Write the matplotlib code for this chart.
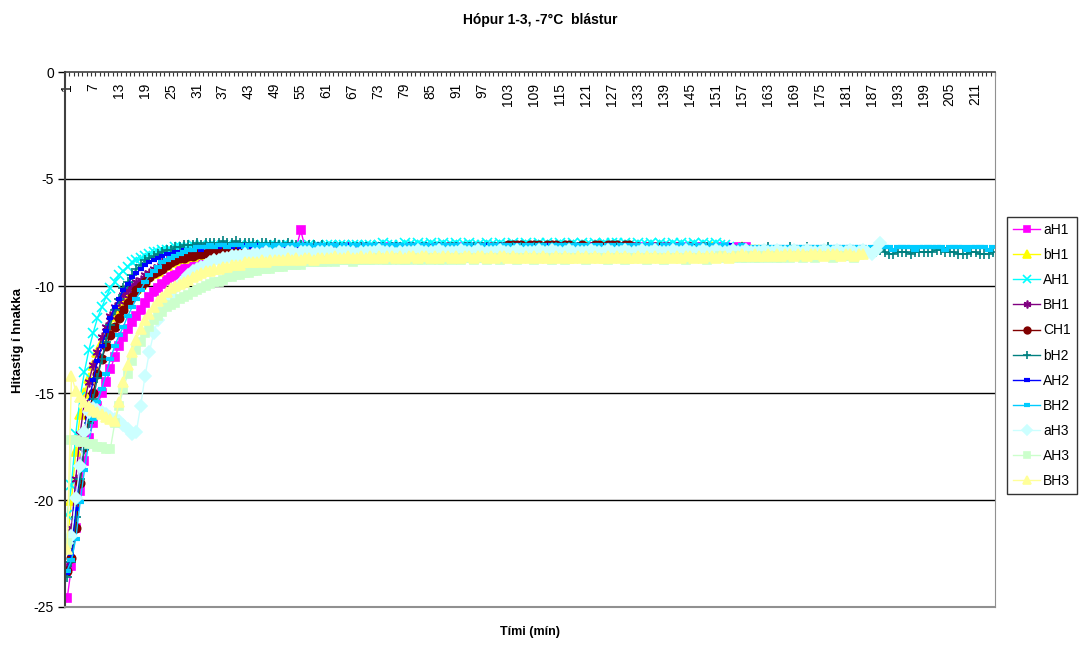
import numpy as np
import matplotlib
matplotlib.use("Agg")
import matplotlib.pyplot as plt

plt.rcParams['font.family'] = ['Liberation Sans', 'DejaVu Sans']

# temperature readings per minute, one list per probe
aH1 = [-24.6, -23.1, -21.3, -19.6, -18.2, -17.1, -16.4, -15.6, -15.0, -14.5, -13.9, -13.3, -12.8, -12.4, -12.0, -11.7, -11.4, -11.1, -10.8, -10.5,
       -10.3, -10.1, -9.9, -9.7, -9.6, -9.5, -9.3, -9.2, -9.1, -9.0, -8.9, -8.8, -8.8, -8.7, -8.6, -8.6, -8.5, -8.5, -8.4, -8.4,
       -8.4, -8.3, -8.3, -8.3, -8.4, -8.3, -8.3, -8.2, -8.3, -8.3, -8.2, -8.3, -8.3, -8.2, -7.4, -8.2, -8.3, -8.3, -8.2, -8.3,
       -8.3, -8.2, -8.3, -8.3, -8.2, -8.3, -8.3, -8.2, -8.3, -8.2, -8.3, -8.3, -8.2, -8.3, -8.2, -8.2, -8.3, -8.3, -8.2, -8.3,
       -8.2, -8.3, -8.2, -8.3, -8.3, -8.2, -8.2, -8.3, -8.2, -8.3, -8.3, -8.2, -8.3, -8.2, -8.2, -8.3, -8.2, -8.3, -8.3, -8.2,
       -8.3, -8.2, -8.2, -8.3, -8.2, -8.2, -8.3, -8.2, -8.2, -8.3, -8.2, -8.3, -8.2, -8.2, -8.3, -8.2, -8.2, -8.3, -8.2, -8.2,
       -8.2, -8.3, -8.2, -8.2, -8.2, -8.3, -8.2, -8.2, -8.3, -8.2, -8.2, -8.2, -8.3, -8.2, -8.3, -8.2, -8.2, -8.3, -8.2, -8.2,
       -8.3, -8.2, -8.2, -8.3, -8.2, -8.3, -8.2, -8.2, -8.3, -8.3, -8.2, -8.3, -8.2, -8.3, -8.3, -8.2, -8.3, -8.2, -8.3, -8.3]

bH1 = [-22.0, -20.0, -17.7, -16.0, -15.0, -14.3, -13.7, -13.1, -12.6, -12.2, -11.8, -11.4, -11.1, -10.8, -10.5, -10.3, -10.1, -9.9, -9.7, -9.5,
       -9.4, -9.3, -9.1, -9.0, -8.9, -8.8, -8.7, -8.7, -8.6, -8.6, -8.5, -8.5, -8.5, -8.4, -8.4, -8.4, -8.3, -8.4, -8.3, -8.3,
       -8.3, -8.4, -8.3, -8.3, -8.3, -8.4, -8.3, -8.3, -8.4, -8.3, -8.3, -8.3, -8.4, -8.3, -8.3, -8.4, -8.3, -8.3, -8.3, -8.4,
       -8.3, -8.3, -8.4, -8.3, -8.3, -8.3, -8.4, -8.3, -8.3, -8.4, -8.3, -8.3, -8.3, -8.4, -8.3, -8.3, -8.4, -8.3, -8.3, -8.3,
       -8.4, -8.3, -8.3, -8.3, -8.4, -8.3, -8.3, -8.4, -8.3, -8.3, -8.3, -8.4, -8.3, -8.3, -8.3, -8.4, -8.3, -8.3, -8.4, -8.3,
       -8.3, -8.3, -8.4, -8.3, -8.3, -8.3, -8.2, -8.3, -8.3, -8.4, -8.3, -8.3, -8.3, -8.2, -8.3, -8.3, -8.4, -8.3, -8.3, -8.3,
       -8.2, -8.3, -8.3, -8.3, -8.4, -8.3, -8.3, -8.2, -8.3, -8.3, -8.3, -8.4, -8.3, -8.3, -8.3, -8.2, -8.3, -8.3, -8.4, -8.3,
       -8.3, -8.3, -8.2, -8.3, -8.3, -8.3, -8.4, -8.3, -8.3, -8.2, -8.3, -8.3, -8.3, -8.4, -8.3, -8.3, -8.2, -8.3, -8.3, -8.3,
       -8.3, -8.3]

AH1 = [-20.7, -19.3, -16.9, -15.2, -14.0, -13.0, -12.2, -11.5, -11.0, -10.5, -10.1, -9.8, -9.5, -9.3, -9.1, -8.9, -8.8, -8.7, -8.6, -8.5,
       -8.4, -8.4, -8.3, -8.3, -8.3, -8.2, -8.2, -8.2, -8.2, -8.1, -8.2, -8.1, -8.2, -8.1, -8.1, -8.2, -8.1, -8.1, -8.2, -8.1,
       -8.1, -8.2, -8.1, -8.1, -8.2, -8.1, -8.2, -8.1, -8.1, -8.2, -8.1, -8.1, -8.2, -8.1, -8.2, -8.1, -8.1, -8.2, -8.1, -8.2,
       -8.1, -8.1, -8.2, -8.1, -8.1, -8.2, -8.1, -8.1, -8.2, -8.1, -8.1, -8.2, -8.1, -8.0, -8.1, -8.1, -8.2, -8.1, -8.0, -8.1,
       -8.1, -8.0, -8.1, -8.1, -8.0, -8.1, -8.1, -8.0, -8.1, -8.1, -8.0, -8.1, -8.1, -8.0, -8.1, -8.1, -8.1, -8.0, -8.1, -8.1,
       -8.0, -8.1, -8.1, -8.0, -8.1, -8.1, -8.0, -8.1, -8.1, -8.0, -8.1, -8.0, -8.1, -8.1, -8.0, -8.1, -8.1, -8.0, -8.1, -8.0,
       -8.1, -8.1, -8.0, -8.1, -8.0, -8.1, -8.0, -8.0, -8.1, -8.0, -8.1, -8.1, -8.0, -8.1, -8.1, -8.0, -8.1, -8.0, -8.1, -8.1,
       -8.0, -8.1, -8.0, -8.1, -8.1, -8.0, -8.1, -8.0, -8.1, -8.1, -8.0, -8.1, -8.1, -8.2]

BH1 = [-23.2, -21.3, -19.0, -16.9, -15.4, -14.5, -13.7, -13.1, -12.4, -11.9, -11.4, -11.0, -10.7, -10.4, -10.2, -10.0, -9.8, -9.7, -9.5, -9.4,
       -9.2, -9.1, -8.9, -8.8, -8.7, -8.7, -8.6, -8.6, -8.5, -8.5, -8.4, -8.4, -8.4, -8.3, -8.3, -8.3, -8.3, -8.2, -8.3, -8.3,
       -8.3, -8.2, -8.3, -8.3, -8.2, -8.3, -8.3, -8.3, -8.2, -8.3, -8.3, -8.2, -8.3, -8.3, -8.3, -8.2, -8.3, -8.3, -8.2, -8.3,
       -8.3, -8.3, -8.2, -8.3, -8.3, -8.2, -8.3, -8.3, -8.3, -8.2, -8.3, -8.3, -8.2, -8.3, -8.3, -8.3, -8.2, -8.3, -8.3, -8.2,
       -8.3, -8.3, -8.3, -8.2, -8.3, -8.3, -8.2, -8.3, -8.3, -8.3, -8.2, -8.3, -8.3, -8.2, -8.3, -8.3, -8.3, -8.2, -8.3, -8.3,
       -8.2, -8.3, -8.3, -8.3, -8.2, -8.3, -8.3, -8.2, -8.3, -8.3, -8.3, -8.2, -8.3, -8.3, -8.2, -8.3, -8.3, -8.3, -8.2, -8.3,
       -8.3, -8.2, -8.3, -8.4, -8.3, -8.2, -8.3, -8.3, -8.3, -8.4, -8.3, -8.3, -8.2, -8.3, -8.4, -8.4, -8.3, -8.3, -8.2, -8.3,
       -8.3, -8.4, -8.3, -8.3, -8.2, -8.3, -8.3, -8.4, -8.3, -8.3, -8.3]

CH1 = [-23.3, -22.7, -21.3, -19.2, -17.5, -16.1, -15.0, -14.1, -13.4, -12.8, -12.3, -11.9, -11.5, -11.1, -10.8, -10.5, -10.2, -10.0, -9.8, -9.6,
       -9.4, -9.3, -9.2, -9.0, -8.9, -8.8, -8.7, -8.7, -8.6, -8.6, -8.5, -8.5, -8.5, -8.4, -8.4, -8.4, -8.4, -8.3, -8.4, -8.3,
       -8.4, -8.3, -8.4, -8.3, -8.4, -8.4, -8.3, -8.4, -8.3, -8.4, -8.3, -8.4, -8.4, -8.3, -8.4, -8.3, -8.4, -8.3, -8.4, -8.4,
       -8.3, -8.4, -8.3, -8.4, -8.4, -8.3, -8.4, -8.3, -8.4, -8.3, -8.4, -8.3, -8.4, -8.4, -8.3, -8.3, -8.4, -8.3, -8.3, -8.4,
       -8.3, -8.3, -8.3, -8.4, -8.3, -8.3, -8.3, -8.3, -8.2, -8.2, -8.3, -8.3, -8.2, -8.2, -8.3, -8.2, -8.2, -8.3, -8.2, -8.2,
       -8.2, -8.2, -8.1, -8.1, -8.1, -8.1, -8.2, -8.1, -8.1, -8.1, -8.2, -8.1, -8.1, -8.1, -8.2, -8.1, -8.1, -8.2, -8.2, -8.1,
       -8.2, -8.2, -8.1, -8.1, -8.2, -8.1, -8.1, -8.1, -8.2, -8.1, -8.1, -8.2, -8.2, -8.3, -8.2, -8.3, -8.2, -8.2, -8.3, -8.2,
       -8.3, -8.2, -8.3, -8.3, -8.2, -8.3, -8.3, -8.2, -8.3, -8.3]

bH2 = [-23.6, -22.9, -20.8, -19.0, -17.6, -16.4, -15.3, -14.3, -13.4, -12.6, -11.8, -11.1, -10.6, -10.1, -9.8, -9.5, -9.2, -9.0, -8.8, -8.7,
       -8.6, -8.5, -8.4, -8.3, -8.3, -8.2, -8.2, -8.1, -8.1, -8.1, -8.0, -8.1, -8.0, -8.0, -8.0, -8.0, -7.9, -8.0, -8.0, -7.9,
       -8.0, -8.0, -8.0, -8.0, -8.1, -8.0, -8.0, -8.1, -8.0, -8.1, -8.1, -8.0, -8.1, -8.1, -8.1, -8.2, -8.1, -8.1, -8.2, -8.1,
       -8.2, -8.2, -8.2, -8.2, -8.2, -8.3, -8.2, -8.2, -8.2, -8.2, -8.3, -8.2, -8.2, -8.2, -8.3, -8.2, -8.2, -8.2, -8.3, -8.2,
       -8.2, -8.3, -8.2, -8.2, -8.3, -8.2, -8.2, -8.2, -8.3, -8.2, -8.2, -8.3, -8.2, -8.2, -8.2, -8.3, -8.2, -8.2, -8.3, -8.2,
       -8.2, -8.2, -8.3, -8.2, -8.3, -8.2, -8.2, -8.3, -8.2, -8.2, -8.2, -8.3, -8.2, -8.2, -8.3, -8.2, -8.2, -8.2, -8.2, -8.3,
       -8.3, -8.3, -8.3, -8.4, -8.3, -8.3, -8.3, -8.2, -8.2, -8.3, -8.3, -8.3, -8.4, -8.3, -8.3, -8.3, -8.4, -8.4, -8.3, -8.3,
       -8.3, -8.4, -8.3, -8.3, -8.3, -8.4, -8.3, -8.3, -8.2, -8.3, -8.3, -8.3, -8.3, -8.4, -8.3, -8.3, -8.2, -8.3, -8.3, -8.3,
       -8.3, -8.3, -8.2, -8.3, -8.3, -8.3, -8.3, -8.2, -8.3, -8.3, -8.3, -8.2, -8.3, -8.3, -8.3, -8.3, -8.2, -8.3, -8.3, -8.3,
       -8.3, -8.3, -8.3, -8.3, -8.3, -8.4, -8.4, -8.4, -8.3, -8.4, -8.5, -8.5, -8.4, -8.4, -8.4, -8.5, -8.4, -8.4, -8.4, -8.4,
       -8.4, -8.3, -8.3, -8.4, -8.4, -8.4, -8.5, -8.5, -8.5, -8.4, -8.4, -8.5, -8.5, -8.5, -8.4]

AH2 = [-23.4, -22.5, -20.4, -18.4, -16.8, -15.5, -14.4, -13.5, -12.8, -12.1, -11.5, -11.0, -10.6, -10.2, -9.9, -9.6, -9.4, -9.2, -9.0, -8.9,
       -8.8, -8.7, -8.6, -8.5, -8.5, -8.4, -8.4, -8.3, -8.3, -8.3, -8.2, -8.3, -8.2, -8.2, -8.2, -8.2, -8.1, -8.2, -8.2, -8.1,
       -8.2, -8.1, -8.2, -8.2, -8.1, -8.2, -8.2, -8.2, -8.1, -8.2, -8.2, -8.1, -8.2, -8.2, -8.2, -8.1, -8.2, -8.2, -8.1, -8.2,
       -8.2, -8.2, -8.1, -8.2, -8.2, -8.1, -8.2, -8.2, -8.2, -8.1, -8.2, -8.2, -8.1, -8.2, -8.2, -8.2, -8.1, -8.2, -8.2, -8.1,
       -8.2, -8.2, -8.2, -8.1, -8.2, -8.2, -8.1, -8.2, -8.2, -8.2, -8.1, -8.2, -8.2, -8.1, -8.2, -8.2, -8.2, -8.1, -8.2, -8.2,
       -8.1, -8.2, -8.2, -8.2, -8.1, -8.2, -8.2, -8.1, -8.2, -8.2, -8.2, -8.1, -8.2, -8.2, -8.1, -8.2, -8.2, -8.2, -8.1, -8.2,
       -8.2, -8.1, -8.2, -8.2, -8.2, -8.1, -8.2, -8.2, -8.1, -8.2, -8.2, -8.2, -8.1, -8.2, -8.2, -8.1, -8.2, -8.2, -8.2, -8.1,
       -8.2, -8.2, -8.1, -8.2, -8.2, -8.2, -8.1, -8.2, -8.2, -8.1, -8.2, -8.2, -8.2, -8.1, -8.2, -8.2, -8.1, -8.2]

BH2 = [-23.3, -22.8, -21.8, -20.1, -18.6, -17.3, -16.2, -15.4, -14.8, -14.1, -13.4, -12.8, -12.3, -11.9, -11.4, -11.0, -10.6, -10.2, -9.8, -9.5,
       -9.3, -9.1, -8.9, -8.8, -8.7, -8.6, -8.5, -8.4, -8.3, -8.3, -8.2, -8.2, -8.2, -8.1, -8.2, -8.1, -8.1, -8.2, -8.1, -8.1,
       -8.1, -8.2, -8.1, -8.1, -8.2, -8.1, -8.1, -8.2, -8.1, -8.2, -8.1, -8.1, -8.2, -8.1, -8.1, -8.2, -8.1, -8.2, -8.1, -8.1,
       -8.2, -8.1, -8.1, -8.2, -8.1, -8.2, -8.1, -8.1, -8.2, -8.1, -8.2, -8.1, -8.1, -8.2, -8.1, -8.1, -8.2, -8.1, -8.2, -8.1,
       -8.1, -8.2, -8.1, -8.1, -8.2, -8.1, -8.2, -8.1, -8.1, -8.2, -8.1, -8.1, -8.2, -8.1, -8.2, -8.1, -8.1, -8.2, -8.1, -8.1,
       -8.2, -8.1, -8.1, -8.2, -8.1, -8.2, -8.1, -8.1, -8.2, -8.1, -8.1, -8.2, -8.1, -8.2, -8.1, -8.1, -8.2, -8.1, -8.1, -8.2,
       -8.1, -8.2, -8.1, -8.1, -8.2, -8.1, -8.1, -8.2, -8.1, -8.2, -8.1, -8.1, -8.2, -8.1, -8.1, -8.2, -8.1, -8.2, -8.1, -8.1,
       -8.2, -8.1, -8.1, -8.2, -8.1, -8.2, -8.1, -8.1, -8.2, -8.1, -8.1, -8.2, -8.1, -8.2, -8.2, -8.2, -8.1, -8.2, -8.2, -8.2,
       -8.2, -8.2, -8.2, -8.2, -8.2, -8.2, -8.2, -8.2, -8.2, -8.2, -8.2, -8.2, -8.2, -8.2, -8.2, -8.2, -8.2, -8.2, -8.2, -8.2,
       -8.2, -8.2, -8.2, -8.2, -8.2, -8.3, -8.2, -8.2, -8.2, -8.2, -8.2, -8.3, -8.2, -8.2, -8.2, -8.2, -8.3, -8.2, -8.2, -8.2,
       -8.2, -8.2, -8.2, -8.3, -8.2, -8.2, -8.2, -8.2, -8.3, -8.2, -8.2, -8.2, -8.2, -8.3, -8.2]

aH3 = [-22.0, -21.7, -19.9, -18.4, -16.8, -15.9, -15.7, -15.8, -15.9, -16.0, -16.1, -16.2, -16.3, -16.5, -16.7, -16.9, -16.8, -15.6, -14.2, -13.1,
       -12.2, -11.6, -11.1, -10.7, -10.4, -10.1, -9.9, -9.7, -9.5, -9.3, -9.2, -9.1, -9.0, -8.9, -8.8, -8.8, -8.7, -8.7, -8.6, -8.6,
       -8.6, -8.5, -8.6, -8.5, -8.5, -8.5, -8.4, -8.5, -8.5, -8.4, -8.5, -8.4, -8.4, -8.5, -8.4, -8.4, -8.4, -8.5, -8.4, -8.4,
       -8.4, -8.4, -8.5, -8.4, -8.4, -8.4, -8.4, -8.5, -8.4, -8.4, -8.4, -8.4, -8.3, -8.4, -8.4, -8.4, -8.5, -8.4, -8.4, -8.4,
       -8.4, -8.3, -8.4, -8.4, -8.4, -8.4, -8.3, -8.4, -8.4, -8.4, -8.4, -8.3, -8.4, -8.4, -8.4, -8.3, -8.4, -8.4, -8.4, -8.4,
       -8.3, -8.4, -8.4, -8.4, -8.3, -8.4, -8.4, -8.4, -8.4, -8.3, -8.4, -8.4, -8.3, -8.4, -8.4, -8.4, -8.3, -8.4, -8.4, -8.4,
       -8.4, -8.3, -8.4, -8.4, -8.4, -8.3, -8.4, -8.4, -8.4, -8.3, -8.4, -8.4, -8.4, -8.3, -8.4, -8.4, -8.3, -8.4, -8.4, -8.4,
       -8.3, -8.4, -8.4, -8.3, -8.4, -8.4, -8.4, -8.3, -8.4, -8.4, -8.3, -8.4, -8.4, -8.4, -8.3, -8.4, -8.4, -8.3, -8.4, -8.4,
       -8.4, -8.3, -8.4, -8.4, -8.3, -8.4, -8.4, -8.4, -8.3, -8.4, -8.4, -8.3, -8.4, -8.4, -8.4, -8.3, -8.4, -8.4, -8.3, -8.4,
       -8.4, -8.3, -8.4, -8.4, -8.3, -8.4, -8.5, -8.3, -8.0]

AH3 = [-22.0, -17.2, -17.2, -17.3, -17.3, -17.4, -17.4, -17.5, -17.5, -17.6, -17.6, -16.4, -15.6, -14.8, -14.1, -13.5, -13.0, -12.6, -12.2, -11.9,
       -11.6, -11.4, -11.2, -11.0, -10.9, -10.8, -10.6, -10.5, -10.4, -10.3, -10.2, -10.1, -10.0, -9.9, -9.8, -9.8, -9.7, -9.6, -9.6, -9.5,
       -9.5, -9.4, -9.4, -9.3, -9.3, -9.2, -9.2, -9.2, -9.1, -9.1, -9.1, -9.0, -9.0, -9.0, -9.0, -8.9, -8.9, -8.9, -8.9, -8.9,
       -8.9, -8.8, -8.9, -8.8, -8.8, -8.8, -8.9, -8.8, -8.8, -8.8, -8.8, -8.8, -8.7, -8.8, -8.8, -8.8, -8.7, -8.8, -8.8, -8.8,
       -8.7, -8.8, -8.8, -8.7, -8.8, -8.7, -8.8, -8.8, -8.7, -8.8, -8.7, -8.8, -8.7, -8.7, -8.8, -8.7, -8.7, -8.8, -8.7, -8.7,
       -8.8, -8.7, -8.7, -8.7, -8.8, -8.7, -8.7, -8.7, -8.8, -8.7, -8.7, -8.7, -8.8, -8.7, -8.7, -8.8, -8.7, -8.7, -8.7, -8.7,
       -8.8, -8.7, -8.7, -8.7, -8.7, -8.8, -8.7, -8.7, -8.7, -8.8, -8.7, -8.7, -8.7, -8.7, -8.8, -8.7, -8.7, -8.7, -8.8, -8.7,
       -8.7, -8.7, -8.7, -8.8, -8.7, -8.7, -8.7, -8.7, -8.8, -8.7, -8.7, -8.6, -8.7, -8.7, -8.7, -8.6, -8.7, -8.7, -8.6, -8.7,
       -8.7, -8.6, -8.7, -8.6, -8.7, -8.7, -8.6, -8.7, -8.6, -8.6, -8.7, -8.6, -8.6, -8.7, -8.6, -8.6, -8.6, -8.7, -8.6, -8.6,
       -8.6, -8.6, -8.7]

BH3 = [-22.3, -14.2, -14.9, -15.2, -15.4, -15.6, -15.8, -15.9, -16.0, -16.1, -16.2, -16.3, -15.4, -14.5, -13.7, -13.1, -12.5, -12.0, -11.6, -11.3,
       -11.0, -10.7, -10.5, -10.3, -10.1, -10.0, -9.9, -9.8, -9.7, -9.6, -9.5, -9.4, -9.3, -9.3, -9.2, -9.2, -9.1, -9.1, -9.0, -9.0,
       -9.0, -8.9, -8.9, -8.9, -8.9, -8.8, -8.9, -8.8, -8.8, -8.8, -8.8, -8.7, -8.8, -8.7, -8.8, -8.7, -8.7, -8.8, -8.7, -8.7,
       -8.7, -8.7, -8.6, -8.7, -8.7, -8.6, -8.7, -8.7, -8.6, -8.7, -8.6, -8.7, -8.6, -8.7, -8.6, -8.6, -8.7, -8.6, -8.7, -8.6,
       -8.6, -8.7, -8.6, -8.6, -8.7, -8.6, -8.7, -8.6, -8.6, -8.7, -8.6, -8.7, -8.6, -8.6, -8.7, -8.6, -8.6, -8.7, -8.6, -8.7,
       -8.6, -8.6, -8.7, -8.6, -8.7, -8.7, -8.6, -8.7, -8.6, -8.7, -8.6, -8.7, -8.7, -8.6, -8.7, -8.6, -8.7, -8.7, -8.6, -8.7,
       -8.6, -8.7, -8.6, -8.7, -8.7, -8.6, -8.7, -8.6, -8.7, -8.6, -8.7, -8.7, -8.6, -8.7, -8.6, -8.7, -8.6, -8.7, -8.7, -8.6,
       -8.7, -8.6, -8.7, -8.6, -8.6, -8.7, -8.6, -8.7, -8.6, -8.6, -8.7, -8.6, -8.6, -8.7, -8.6, -8.6, -8.5, -8.6, -8.6, -8.5,
       -8.6, -8.6, -8.5, -8.6, -8.5, -8.6, -8.5, -8.5, -8.6, -8.5, -8.5, -8.6, -8.5, -8.5, -8.5, -8.6, -8.5, -8.5, -8.5, -8.6,
       -8.5, -8.5, -8.6, -8.5, -8.5]

series_names = ['aH1', 'bH1', 'AH1', 'BH1', 'CH1', 'bH2', 'AH2', 'BH2', 'aH3', 'AH3', 'BH3']
series_data = [aH1, bH1, AH1, BH1, CH1, bH2, AH2, BH2, aH3, AH3, BH3]
colors = ['#FF00FF', '#FFFF00', '#00FFFF', '#800080', '#800000', '#008080',
          '#0000FF', '#00CCFF', '#CCFFFF', '#CCFFCC', '#FFFF99']
markers = ['s', '^', 'x', (6, 2, 0), 'o', '+', '_', '_', 'D', 's', '^']
msizes = [6, 7, 6.5, 7, 6, 7.5, 5, 6, 6, 6, 7]

n_minutes = 215
label_every = 6

fig = plt.figure(figsize=(10.8, 6.45), dpi=100)
ax = fig.add_axes([65 / 1080, 1 - 607 / 645, 930 / 1080, 535 / 645])

for name, vals, c, m, ms in zip(series_names, series_data, colors, markers, msizes):
    x = np.arange(1, len(vals) + 1)
    mew = 3.0 if m == '_' else 1.2
    ax.plot(x, vals, color=c, lw=1.0, marker=m, ms=ms, mfc=c, mec=c, mew=mew, label=name)

ax.set_xlim(0.5, n_minutes + 0.5)
ax.set_ylim(-25, 0)
ax.set_yticks([0, -5, -10, -15, -20, -25])
ax.set_yticklabels(['0', '-5', '-10', '-15', '-20', '-25'], fontsize=10)
ax.tick_params(axis='y', direction='out', length=5, width=1, color='#000000', pad=3)

# category labels sit at the top (value 0) and hang downwards
lab_pos = np.arange(1, n_minutes + 1, label_every)
ax.set_xticks(lab_pos)
ax.set_xticklabels([str(v) for v in lab_pos], rotation=90, va='top', fontsize=10)
ax.set_xticks(np.arange(0.5, n_minutes + 1, 1), minor=True)
ax.tick_params(axis='x', which='major', bottom=False, top=True, labelbottom=False,
               labeltop=True, length=0, direction='in', pad=-8)
ax.tick_params(axis='x', which='minor', bottom=False, top=True, length=3,
               direction='in', width=0.8, color='#333333')

for v in [-5, -10, -15, -20]:
    ax.axhline(v, color='black', lw=1.0, zorder=0.5)

ax.spines['left'].set_color('#404040')
ax.spines['left'].set_linewidth(1.5)
ax.spines['top'].set_color('#404040')
ax.spines['top'].set_linewidth(1.2)
ax.spines['right'].set_color('#909090')
ax.spines['bottom'].set_color('#909090')
ax.spines['bottom'].set_linewidth(1.5)

fig.text(0.5, 1 - 20 / 645, 'Hópur 1-3, -7°C  blástur', ha='center', va='center',
         fontsize=10, fontweight='bold')
fig.text(530 / 1080, 1 - 632 / 645, 'Tími (mín)', ha='center', va='center',
         fontsize=9, fontweight='bold')
fig.text(18 / 1080, 1 - 340 / 645, 'Hitastig í hnakka', ha='center', va='center',
         rotation=90, fontsize=9.5, fontweight='bold')

leg = ax.legend(loc='center left', bbox_to_anchor=(1.013, 0.47), fontsize=10,
                frameon=True, fancybox=False, edgecolor='black', handlelength=1.9,
                markerscale=0.8, labelspacing=0.8, handletextpad=0.25, borderpad=0.45,
                borderaxespad=0)
leg.get_frame().set_linewidth(1.0)

fig.savefig('out.png', dpi=100)
